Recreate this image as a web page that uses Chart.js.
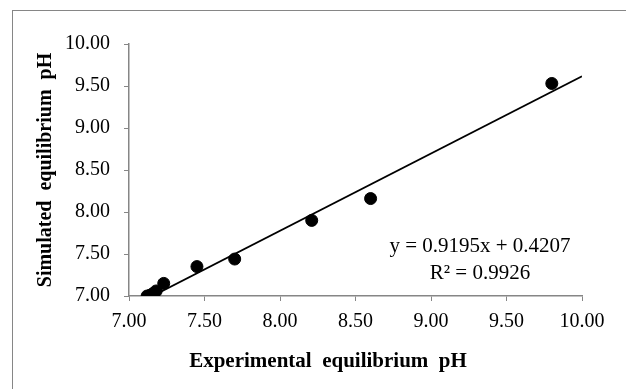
<!DOCTYPE html>
<html>
<head>
<meta charset="utf-8">
<script src="https://cdn.jsdelivr.net/npm/chart.js@4.4.1/dist/chart.umd.min.js"></script>
<style>
    html, body { margin: 0; padding: 0; background: #fff; }
    canvas { display: block; }
</style>
</head>
<body>
<canvas id="phChart" width="626" height="389"></canvas>
<script>
// measured points (experimental vs simulated pH)
const experimentalPH = [7.12, 7.14, 7.16, 7.18, 7.23, 7.45, 7.70, 8.21, 8.60, 9.80];
const simulatedPH = [7.00, 7.01, 7.03, 7.06, 7.15, 7.35, 7.44, 7.90, 8.16, 9.53];

// linear trendline end points
const trendX = [7.12, 10.00];
const trendY = [6.967, 9.616];

const tickValues = [7.0, 7.5, 8.0, 8.5, 9.0, 9.5, 10.0];
const equationLines = ['y = 0.9195x + 0.4207', 'R\u00B2 = 0.9926'];
const xTitle = 'Experimental  equilibrium  pH';
const yTitle = 'Simulated  equilibrium  pH';

const axisGrey = '#868686';
const serif = "'Liberation Serif', 'Times New Roman', serif";

function toPoints(xs, ys) {
    return xs.map((x, i) => ({x: x, y: ys[i]}));
}

const frameAndText = {
    id: 'frameAndText',
    beforeDraw(chart) {
        const ctx = chart.ctx;
        ctx.save();
        ctx.fillStyle = '#fff';
        ctx.fillRect(0, 0, chart.width, chart.height);
        ctx.strokeStyle = axisGrey;
        ctx.lineWidth = 1;
        ctx.strokeRect(12.5, 10.5, 800, 600);
        ctx.restore();
    },
    afterDraw(chart) {
        const ctx = chart.ctx;
        const area = chart.chartArea;
        ctx.save();
        ctx.fillStyle = '#000';
        ctx.textAlign = 'center';
        ctx.textBaseline = 'alphabetic';
        ctx.font = '21px ' + serif;
        equationLines.forEach((line, i) => {
            ctx.fillText(line, area.right - 102, area.bottom - 44 + i * 27);
        });
        ctx.font = 'bold 21px ' + serif;
        ctx.fillText(xTitle, area.left + 199, chart.height - 22);
        ctx.restore();
    }
};

function setupChart() {
    const ctx = document.getElementById('phChart');
    return new Chart(ctx, {
        type: 'scatter',
        data: {
            datasets: [{
                label: 'Simulated',
                data: toPoints(experimentalPH, simulatedPH),
                backgroundColor: '#000',
                borderColor: '#000',
                pointRadius: 6,
                pointHoverRadius: 6,
                order: 1
            }, {
                label: 'Linear fit',
                type: 'line',
                data: toPoints(trendX, trendY),
                borderColor: '#000',
                borderWidth: 1.8,
                pointRadius: 0,
                fill: false,
                order: 2
            }]
        },
        options: {
            responsive: false,
            animation: false,
            devicePixelRatio: 1,
            layout: {
                padding: {top: 44, right: 44, bottom: 0, left: 0}
            },
            plugins: {
                legend: {display: false},
                tooltip: {enabled: false}
            },
            scales: {
                x: {
                    type: 'linear',
                    min: 7,
                    max: 10,
                    afterBuildTicks: (scale) => {
                        scale.ticks = tickValues.map((v) => ({value: v}));
                    },
                    afterFit: (scale) => { scale.height = 93; },
                    grid: {drawOnChartArea: false, color: axisGrey, tickLength: 5, lineWidth: 1},
                    border: {color: axisGrey, width: 1.5},
                    ticks: {
                        color: '#000',
                        padding: 9,
                        maxRotation: 0,
                        font: {family: serif, size: 20},
                        callback: (v) => Number(v).toFixed(2)
                    }
                },
                y: {
                    type: 'linear',
                    min: 7,
                    max: 10,
                    afterBuildTicks: (scale) => {
                        scale.ticks = tickValues.map((v) => ({value: v}));
                    },
                    afterFit: (scale) => { scale.width = 129; },
                    grid: {drawOnChartArea: false, color: axisGrey, tickLength: 5, lineWidth: 1},
                    border: {color: axisGrey, width: 1.5},
                    ticks: {
                        color: '#000',
                        padding: 14,
                        font: {family: serif, size: 20},
                        callback: (v) => Number(v).toFixed(2)
                    },
                    title: {
                        display: true,
                        text: yTitle,
                        color: '#000',
                        font: {family: serif, size: 20, weight: 'bold'},
                        padding: {top: 34, bottom: 0}
                    }
                }
            }
        },
        plugins: [frameAndText]
    });
}

setupChart();
</script>
</body>
</html>
